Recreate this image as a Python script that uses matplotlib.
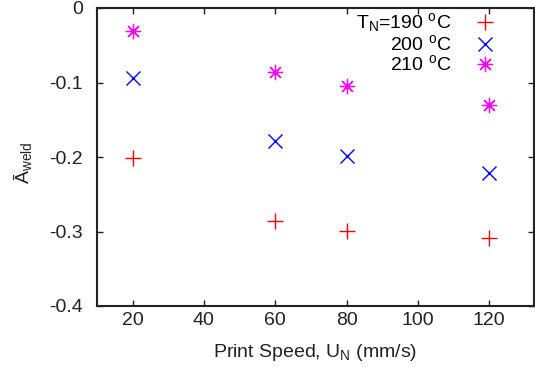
import matplotlib
matplotlib.use('Agg')
import matplotlib.pyplot as plt

plt.rcParams['font.family'] = ['Liberation Sans', 'DejaVu Sans']
plt.rcParams['mathtext.fontset'] = 'custom'
plt.rcParams['mathtext.rm'] = 'Liberation Sans'
plt.rcParams['mathtext.it'] = 'Liberation Sans'
plt.rcParams['mathtext.default'] = 'regular'
plt.rcParams['axes.unicode_minus'] = False

speeds = [20, 60, 80, 120]
a_190 = [-0.201, -0.286, -0.299, -0.309]
a_200 = [-0.094, -0.179, -0.199, -0.221]
a_210 = [-0.031, -0.086, -0.105, -0.130]
labels = ['T$_N$=190 $^o$C', '200 $^o$C', '210 $^o$C']

fig = plt.figure(figsize=(5.35, 3.67), dpi=100)
ax = fig.add_axes([97 / 535, 61 / 367, 437 / 535, 298 / 367])

ax.plot(speeds, a_190, linestyle='none', marker='+', color='#ff0000',
        markersize=11, markeredgewidth=1.0, label=labels[0])
ax.plot(speeds, a_200, linestyle='none', marker='x', color='#0000ff',
        markersize=10, markeredgewidth=1.0, label=labels[1])
ax.plot(speeds, a_210, linestyle='none', marker=(8, 2, 0), color='#ff00ff',
        markersize=11, markeredgewidth=0.9, label=labels[2])

ax.set_xlim(10, 132.6)
ax.set_ylim(-0.4, 0)
ax.set_xticks([20, 40, 60, 80, 100, 120])
ax.set_yticks([0, -0.1, -0.2, -0.3, -0.4])
ax.set_yticklabels(['0', '-0.1', '-0.2', '-0.3', '-0.4'])
ax.tick_params(direction='in', length=4, width=1, top=True, right=True,
               labelsize=14, colors='#222222')
ax.tick_params(axis='y', pad=10)
ax.tick_params(axis='x', pad=4)
for s in ax.spines.values():
    s.set_linewidth(1.5)
    s.set_color('#222222')

ax.set_xlabel('Print Speed, U$_N$ (mm/s)', fontsize=14, color='#222222')
ax.set_ylabel('Ā$_{weld}$', fontsize=14, color='#222222')
ax.yaxis.set_label_coords(-0.145, 0.48)
ax.xaxis.set_label_coords(0.5, -0.12)

ax.legend(loc='upper right', frameon=False, markerfirst=False, fontsize=14,
          handlelength=1.5, handletextpad=1.0, labelspacing=0.0,
          borderaxespad=0.0, bbox_to_anchor=(0.94, 1.015))

fig.savefig('out.png', dpi=100)
